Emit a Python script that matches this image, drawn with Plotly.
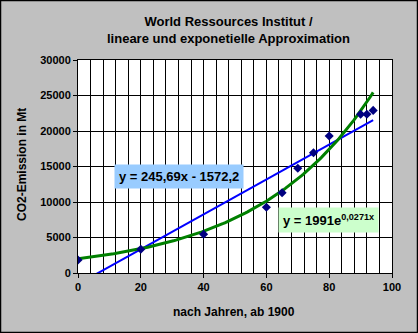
import numpy as np
import plotly.graph_objects as go

# CO2 emissions (Mt) by years after 1900
years = [0, 20, 40, 60, 65, 70, 75, 80, 90, 92, 94]
emissions = [1830, 3340, 5450, 9250, 11310, 14750, 16940, 19300, 22350, 22350, 22900]

# Trendline coefficients as given in the equation labels
lin_slope, lin_intercept = 245.69, -1572.2
exp_a, exp_b = 1991, 0.0271

x_ticks = [0, 20, 40, 60, 80, 100]
y_ticks = [0, 5000, 10000, 15000, 20000, 25000, 30000]
y_tick_labels = ["0", "5000", "10000", "15000", "20000", "25000", "30000"]

W, H = 418, 333
L, R, T, B = 78, 26, 60, 60
PW, PH = W - L - R, H - T - B


def px(x):
    return (x - L) / PW


def py(y):
    return (H - B - y) / PH


xt = np.linspace(0, max(years), 200)
lin_y = lin_slope * xt + lin_intercept
exp_y = exp_a * np.exp(exp_b * xt)

font = "Liberation Sans, Arial, sans-serif"

fig = go.Figure()
fig.add_trace(go.Scatter(x=xt, y=lin_y, mode="lines",
                         line=dict(color="#0000FF", width=2), hoverinfo="skip"))
fig.add_trace(go.Scatter(x=xt, y=exp_y, mode="lines",
                         line=dict(color="#008000", width=3), hoverinfo="skip"))
fig.add_trace(go.Scatter(x=years, y=emissions, mode="markers",
                         marker=dict(symbol="diamond", size=7, color="#000080")))

fig.update_layout(
    width=W, height=H,
    margin=dict(l=L, r=R, t=T, b=B),
    paper_bgcolor="#C0C0C0",
    plot_bgcolor="white",
    showlegend=False,
    font=dict(family=font, size=11, color="black"),
    xaxis=dict(range=[0, 100], tickvals=x_ticks, ticktext=[str(v) for v in x_ticks],
               showgrid=True, gridcolor="black",
               gridwidth=1, showline=True, linecolor="black", linewidth=1,
               ticks="outside", ticklen=4, tickcolor="black", zeroline=False,
               tickfont=dict(family=font, size=11, color="black", weight="bold"),
               minor=dict(dtick=4, showgrid=True, gridcolor="black", gridwidth=1),
               mirror=True),
    yaxis=dict(range=[0, 30000], tickvals=y_ticks, ticktext=y_tick_labels,
               showgrid=True, gridcolor="black",
               gridwidth=1, showline=True, linecolor="black", linewidth=1,
               ticks="outside", ticklen=4, tickcolor="black", zeroline=False,
               tickfont=dict(family=font, size=11, color="black", weight="bold"),
               mirror=True),
)

annotations = [
    dict(text="<b>World Ressources Institut /<br>lineare und exponetielle Approximation</b>",
         x=px(228), y=py(30), font=dict(size=13)),
    dict(text="<b>CO2-Emission in Mt</b>", x=px(22), y=py(165), textangle=-90,
         font=dict(size=12)),
    dict(text="<b>nach Jahren, ab 1900</b>", x=px(234), y=py(312), font=dict(size=12)),
    dict(text="<b>y = 245,69x - 1572,2</b>", x=px(179), y=py(176.5),
         font=dict(size=13), bgcolor="#99CCFF", borderpad=4),
    dict(text="<b>y = 1991e<sup>0,0271x</sup></b>", x=px(328), y=py(220),
         font=dict(size=13), bgcolor="#CCFFCC", borderpad=4),
]
for a in annotations:
    a.update(xref="paper", yref="paper", showarrow=False, xanchor="center", yanchor="middle")
    a["font"] = dict(family=font, color="black", **a["font"])
    fig.add_annotation(**a)

# Outer frame of the chart area
fig.add_shape(type="rect", xref="paper", yref="paper",
              x0=px(0.5), x1=px(W - 0.5), y0=py(H - 0.5), y1=py(0.5),
              line=dict(color="black", width=1.5), layer="above")

fig.write_html("out.html")
